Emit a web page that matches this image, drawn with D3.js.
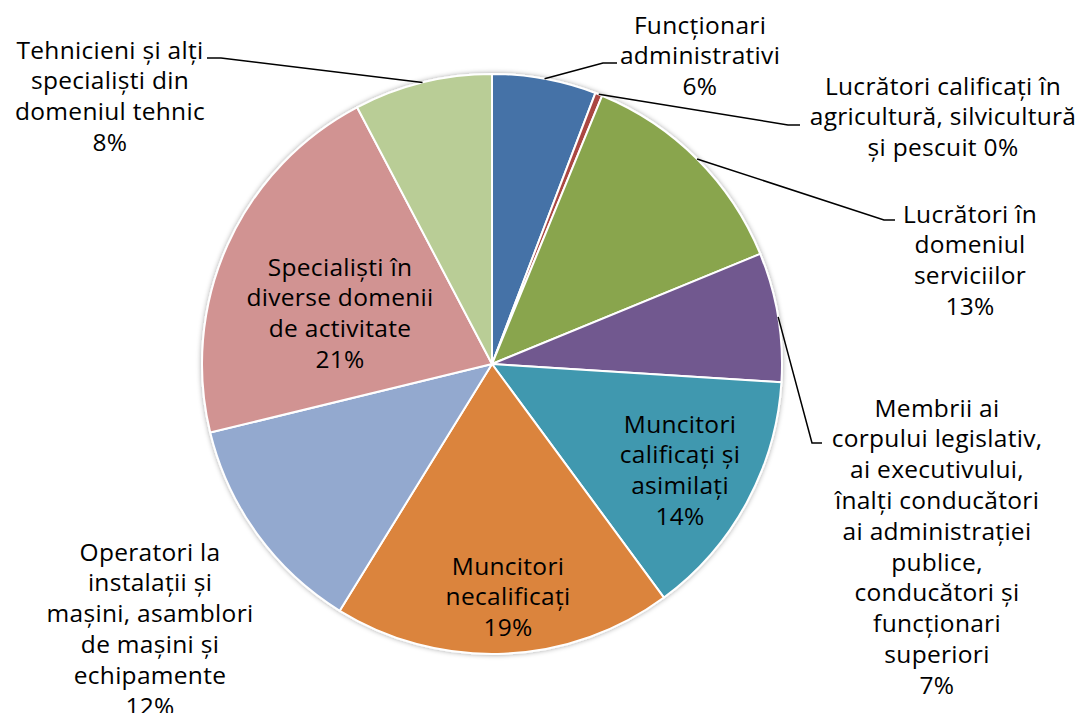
<!DOCTYPE html>
<html>
<head>
<meta charset="utf-8">
<script src="https://cdn.jsdelivr.net/npm/d3@7"></script>
<style>
  body { margin: 0; background: #fff; }
  svg { display: block; }
  text { font-family: "Open Sans", Lato, sans-serif; font-size: 24.5px; letter-spacing: 0.3px; fill: #000; }
</style>
</head>
<body>
<svg id="chart"></svg>
<script>
var width = 1087;
var height = 713;
var center = [492, 364];
var radius = 290;

// categories, clockwise from 12 o'clock
var categories = [
    'Funcționari administrativi',
    'Lucrători calificați în agricultură, silvicultură și pescuit',
    'Lucrători în domeniul serviciilor',
    'Membrii ai corpului legislativ, ai executivului, înalți conducători ai administrației publice, conducători și funcționari superiori',
    'Muncitori calificați și asimilați',
    'Muncitori necalificați',
    'Operatori la instalații și mașini, asamblori de mașini și echipamente',
    'Specialiști în diverse domenii de activitate',
    'Tehnicieni și alți specialiști din domeniul tehnic'
];
var values = [5.8, 0.4, 12.6, 7.2, 13.9, 18.9, 12.4, 21.1, 7.7];
var colors = ['#4572A7', '#AA4643', '#89A54E', '#71588F', '#4198AF',
              '#DB843D', '#93A9CF', '#D19392', '#B9CD96'];

// how each label is wrapped; '%' marks where the percentage goes
var labelLines = [
    ['Funcționari', 'administrativi', '%'],
    ['Lucrători calificați în', 'agricultură, silvicultură', 'și pescuit %'],
    ['Lucrători în', 'domeniul', 'serviciilor', '%'],
    ['Membrii ai', 'corpului legislativ,', 'ai executivului,', 'înalți conducători',
     'ai administrației', 'publice,', 'conducători și', 'funcționari', 'superiori', '%'],
    ['Muncitori', 'calificați și', 'asimilați', '%'],
    ['Muncitori', 'necalificați', '%'],
    ['Operatori la', 'instalații și', 'mașini, asamblori', 'de mașini și', 'echipamente', '%'],
    ['Specialiști în', 'diverse domenii', 'de activitate', '%'],
    ['Tehnicieni și alți', 'specialiști din', 'domeniul tehnic', '%']
];

// label placement: text centre x, first line y, and leader elbow (null = inside)
var lineHeight = 30.8;
var labelLayout = [
    { x: 700, y: 25, elbow: [603, 63], end: 617 },
    { x: 943, y: 86, elbow: [788, 125], end: 800 },
    { x: 970, y: 214, elbow: [884, 220], end: 895 },
    { x: 937, y: 408, elbow: [812, 443], end: 822 },
    { x: 680, y: 424, elbow: null },
    { x: 508, y: 566, elbow: null },
    { x: 150, y: 552, elbow: null },
    { x: 340, y: 267, elbow: null },
    { x: 110, y: 50, elbow: [221, 58], end: 207 }
];

var total = d3.sum(values);
var pct = d3.format('.0%');

var svg = d3.select('#chart')
    .attr('width', width)
    .attr('height', height);

var defs = svg.append('defs');
var shadow = defs.append('filter')
    .attr('id', 'shadow')
    .attr('x', '-10%').attr('y', '-10%')
    .attr('width', '120%').attr('height', '120%');
shadow.append('feDropShadow')
    .attr('dx', 0).attr('dy', 0)
    .attr('stdDeviation', 2.5)
    .attr('flood-color', '#000')
    .attr('flood-opacity', 0.35);

var pie = d3.pie()
    .value(function (d) { return d; })
    .sort(null);

var arc = d3.arc()
    .innerRadius(0)
    .outerRadius(radius);

var arcs = pie(values);

var g = svg.append('g')
    .attr('transform', 'translate(' + center[0] + ',' + center[1] + ')');

g.append('g')
    .attr('filter', 'url(#shadow)')
    .selectAll('path')
    .data(arcs)
    .enter().append('path')
    .attr('d', arc)
    .attr('fill', function (d, i) { return colors[i]; })
    .attr('stroke', '#fff')
    .attr('stroke-width', 2)
    .attr('stroke-linejoin', 'round');

// leader lines, from the rim at the slice's mid angle
svg.append('g').selectAll('path')
    .data(arcs.filter(function (d, i) { return labelLayout[i].elbow; }))
    .enter().append('path')
    .attr('fill', 'none')
    .attr('stroke', '#000')
    .attr('stroke-width', 1.5)
    .attr('d', function (d) {
        var L = labelLayout[d.index];
        var a = (d.startAngle + d.endAngle) / 2;
        var sx = center[0] + Math.sin(a) * radius;
        var sy = center[1] - Math.cos(a) * radius;
        return 'M' + sx + ',' + sy + 'L' + L.elbow[0] + ',' + L.elbow[1] +
            'L' + L.end + ',' + L.elbow[1];
    });

// labels
var labels = svg.append('g').selectAll('text')
    .data(arcs)
    .enter().append('text')
    .attr('text-anchor', 'middle')
    .attr('transform', function (d) {
        var L = labelLayout[d.index];
        return 'translate(' + L.x + ',' + L.y + ')';
    });

labels.selectAll('tspan')
    .data(function (d) {
        var p = pct(d.value / total);
        return labelLines[d.index].map(function (s) { return s.replace('%', p); });
    })
    .enter().append('tspan')
    .attr('x', 0)
    .attr('y', function (d, i) { return i * lineHeight; })
    .attr('dy', 8.5)
    .text(function (d) { return d; });
</script>
</body>
</html>
